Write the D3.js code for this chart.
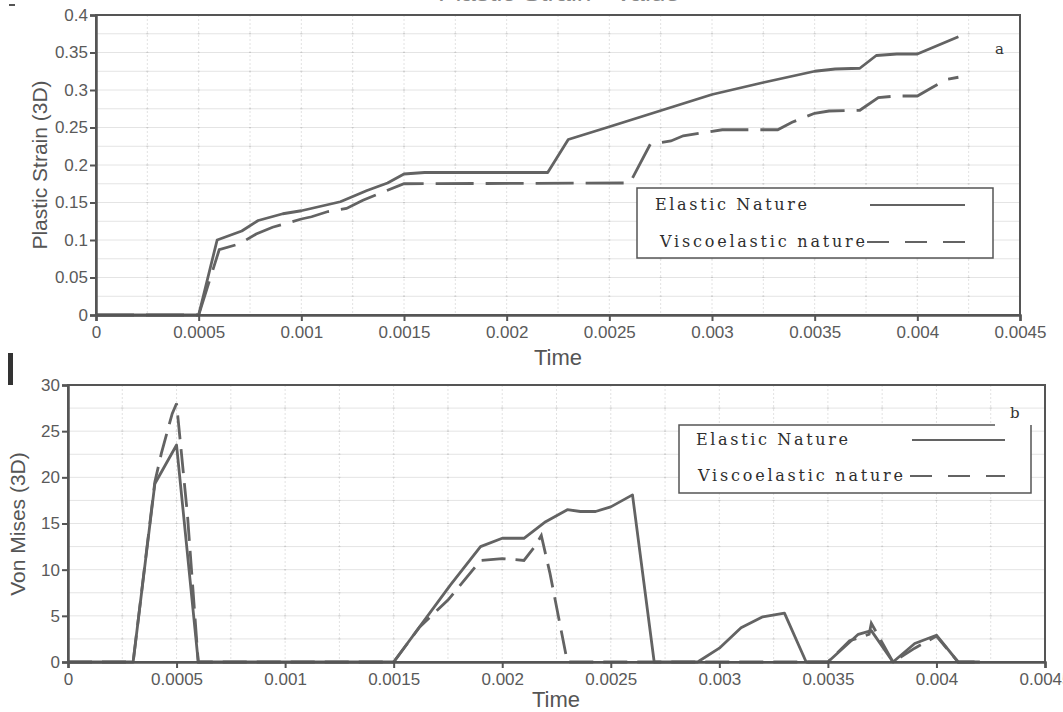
<!DOCTYPE html>
<html><head><meta charset="utf-8">
<script src="https://cdn.jsdelivr.net/npm/d3@7"></script>
<style>body{margin:0;background:#fff;}svg{display:block;}</style>
</head><body>
<svg id="c" width="1063" height="712"></svg>
<script>
// ---- data ----
const seriesNames = ["Elastic Nature", "Viscoelastic nature"];
// Top chart (a): Plastic Strain (3D)
const strainElasticT = [0,0.0005,0.00059,0.00071,0.00079,0.00091,0.001,0.00119,0.00132,0.00142,0.0015,0.0016,0.0022,0.0023,0.0025,0.003,0.00325,0.0035,0.0036,0.00372,0.0038,0.0039,0.004,0.0042];
const strainElasticV = [0,0,0.1,0.112,0.126,0.135,0.139,0.151,0.166,0.176,0.188,0.19,0.19,0.234,0.251,0.294,0.31,0.325,0.328,0.329,0.346,0.348,0.348,0.371];
const strainViscoT = [0,0.0005,0.0006,0.0007,0.00078,0.00086,0.001,0.00105,0.00113,0.00122,0.0013,0.00138,0.0015,0.0026,0.0027,0.0028,0.00286,0.00305,0.00332,0.00339,0.0035,0.00357,0.00372,0.00381,0.0039,0.004,0.00407,0.00414,0.0042];
const strainViscoV = [0,0,0.087,0.095,0.108,0.117,0.128,0.131,0.138,0.142,0.153,0.162,0.175,0.176,0.228,0.232,0.239,0.247,0.247,0.257,0.269,0.272,0.273,0.29,0.292,0.292,0.303,0.314,0.317];
// Bottom chart (b): Von Mises (3D)
const misesElasticT = [0,0.0003,0.0004,0.0005,0.0006,0.0015,0.00176,0.0019,0.002,0.0021,0.0022,0.0023,0.00236,0.00243,0.0025,0.0026,0.0027,0.0029,0.003,0.0031,0.0032,0.0033,0.0034,0.0035,0.00364,0.0037,0.0038,0.0039,0.004,0.0041,0.0042];
const misesElasticV = [0,0,19.3,23.5,0,0,8.3,12.5,13.4,13.4,15.2,16.5,16.3,16.3,16.8,18.1,0,0,1.5,3.7,4.9,5.3,0,0,3.0,3.4,0,2.0,2.9,0,0];
const misesViscoT = [0,0.0003,0.0004,0.00043,0.00048,0.0005,0.00055,0.0006,0.0015,0.00162,0.00175,0.0019,0.002,0.0021,0.00215,0.00218,0.00222,0.0023,0.0035,0.0036,0.00369,0.0037,0.0038,0.0039,0.004,0.0041,0.0042];
const misesViscoV = [0,0,19.5,22.6,26.9,28,16,0,0,3.8,6.7,11,11.2,11,12.5,13.7,9.6,0,0,2.3,3.0,4.2,0,1.5,2.8,0,0];
// ticks
const timeTicks = [0,0.0005,0.001,0.0015,0.002,0.0025,0.003,0.0035,0.004,0.0045];
const timeTickLabels = ["0","0.0005","0.001","0.0015","0.002","0.0025","0.003","0.0035","0.004","0.0045"];
const strainTicks = [0,0.05,0.1,0.15,0.2,0.25,0.3,0.35,0.4];
const strainTickLabels = ["0","0.05","0.1","0.15","0.2","0.25","0.3","0.35","0.4"];
const misesTicks = [0,5,10,15,20,25,30];
const misesTickLabels = ["0","5","10","15","20","25","30"];

const svg = d3.select("#c");
const AX = "#555", LINE = "#636363";

function panel(cfg){
  const x = d3.scaleLinear().domain([0,0.0045]).range([cfg.x0,cfg.x1]);
  const y = d3.scaleLinear().domain(cfg.ydom).range([cfg.y1,cfg.y0]);
  const g = svg.append("g");
  // grid
  const minorX = d3.range(0, 0.0045+1e-9, 0.00025);
  const minorY = d3.range(cfg.ydom[0], cfg.ydom[1]+1e-9, cfg.minorY);
  g.selectAll(".gx").data(minorX).join("line")
    .attr("x1",d=>x(d)).attr("x2",d=>x(d)).attr("y1",cfg.y0).attr("y2",cfg.y1)
    .attr("stroke","#e2e2e2").attr("stroke-width",1).attr("stroke-dasharray","2,2");
  g.selectAll(".gy").data(minorY).join("line")
    .attr("x1",cfg.x0).attr("x2",cfg.x1).attr("y1",d=>y(d)).attr("y2",d=>y(d))
    .attr("stroke","#e4e4e4").attr("stroke-width",1);
  // intersection dots
  const pts = [];
  minorX.forEach(a=>minorY.forEach(b=>pts.push([a,b])));
  g.selectAll(".dt").data(pts).join("rect")
    .attr("x",d=>x(d[0])-1).attr("y",d=>y(d[1])-0.5).attr("width",2).attr("height",1)
    .attr("fill","#c8c8c8");
  // series
  const solid = d3.line().x(d=>x(d[0])).y(d=>y(d[1]));
  g.append("path").datum(cfg.eT.map((t,i)=>[t,cfg.eV[i]])).attr("d",solid)
    .attr("fill","none").attr("stroke",LINE).attr("stroke-width",2.8).attr("stroke-linejoin","round");
  g.append("path").datum(cfg.vT.map((t,i)=>[t,cfg.vV[i]])).attr("d",solid)
    .attr("fill","none").attr("stroke",LINE).attr("stroke-width",2.8).attr("stroke-dasharray",cfg.dash);
  // frame
  g.append("rect").attr("x",cfg.x0).attr("y",cfg.y0).attr("width",cfg.x1-cfg.x0).attr("height",cfg.y1-cfg.y0)
    .attr("fill","none").attr("stroke",AX).attr("stroke-width",2);
  // axes
  const xa = d3.axisBottom(x).tickValues(timeTicks).tickFormat((d,i)=>timeTickLabels[i]).tickSize(6).tickPadding(5);
  const ya = d3.axisLeft(y).tickValues(cfg.yTicks).tickFormat((d,i)=>cfg.yLabels[i]).tickSize(6).tickPadding(2);
  const gx = g.append("g").attr("transform",`translate(0,${cfg.y1})`).call(xa);
  const gy = g.append("g").attr("transform",`translate(${cfg.x0},0)`).call(ya);
  [gx,gy].forEach(a=>{
    a.select(".domain").attr("stroke",AX).attr("stroke-width",2.5);
    a.selectAll(".tick line").attr("stroke",AX).attr("stroke-width",2);
    a.selectAll("text").attr("fill","#5a5a5a").style("font-family","Liberation Sans, Arial, sans-serif").style("font-size","17px");
  });
  // axis titles
  g.append("text").attr("x",cfg.timeX).attr("y",cfg.timeY).attr("text-anchor","middle")
    .attr("fill","#555").style("font-family","Liberation Sans, Arial, sans-serif").style("font-size","22px").text("Time");
  g.append("text").attr("transform",`translate(${cfg.ytX},${cfg.ytY}) rotate(-90)`).attr("text-anchor","middle")
    .attr("fill","#555").style("font-family","Liberation Sans, Arial, sans-serif").style("font-size","21px").text(cfg.yTitle);
  // legend
  const L = cfg.leg;
  if (L.full) {
    g.append("rect").attr("x",L.x).attr("y",L.y).attr("width",L.w).attr("height",L.h)
      .attr("fill","#fff").attr("stroke","#555").attr("stroke-width",1.5);
  } else {
    g.append("rect").attr("x",L.x).attr("y",L.y).attr("width",L.w).attr("height",L.h)
      .attr("fill","#fff").attr("stroke","none");
    g.append("path").attr("d",`M${L.x+L.topLen},${L.y}H${L.x}V${L.y+L.h}H${L.x+L.w}V${L.y}`)
      .attr("fill","none").attr("stroke","#555").attr("stroke-width",1.5);
  }
  const fs = {"font-family":"DejaVu Serif, Liberation Serif, serif","font-size":"16px"};
  const t1 = g.append("text").attr("x",L.x+L.tx1).attr("y",L.y+L.ty1).attr("fill","#2e2e2e")
    .attr("textLength",152).attr("lengthAdjust","spacing").text(seriesNames[0]);
  const t2 = g.append("text").attr("x",L.x+L.tx2).attr("y",L.y+L.ty2).attr("fill","#2e2e2e")
    .attr("textLength",205).attr("lengthAdjust","spacing").text(seriesNames[1]);
  [t1,t2].forEach(t=>{t.style("font-family",fs["font-family"]).style("font-size",fs["font-size"]);});
  g.append("line").attr("x1",L.x+L.l1a).attr("x2",L.x+L.lb).attr("y1",L.y+L.ty1-5).attr("y2",L.y+L.ty1-5)
    .attr("stroke",LINE).attr("stroke-width",1.8);
  g.append("line").attr("x1",L.x+L.l2a).attr("x2",L.x+L.lb).attr("y1",L.y+L.ty2-5).attr("y2",L.y+L.ty2-5)
    .attr("stroke",LINE).attr("stroke-width",1.8).attr("stroke-dasharray","22,16");
  g.append("text").attr("x",cfg.tagX).attr("y",cfg.tagY).attr("fill","#333")
    .style("font-family","DejaVu Serif, Liberation Serif, serif").style("font-size","15px").text(cfg.tag);
}

panel({x0:96,x1:1020,y0:15,y1:315,ydom:[0,0.4],minorY:0.025,yTicks:strainTicks,yLabels:strainTickLabels,
  eT:strainElasticT,eV:strainElasticV,vT:strainViscoT,vV:strainViscoV,dash:"38,12",
  timeX:558,timeY:365,ytX:47,ytY:165,yTitle:"Plastic Strain (3D)",
  leg:{full:true,x:637,y:188,w:356,h:70,tx1:18,ty1:22,tx2:23,ty2:59,l1a:233,l2a:230,lb:328},
  tag:"a",tagX:995,tagY:54});

panel({x0:68,x1:1045,y0:385,y1:662,ydom:[0,30],minorY:2.5,yTicks:misesTicks,yLabels:misesTickLabels,
  eT:misesElasticT,eV:misesElasticV,vT:misesViscoT,vV:misesViscoV,dash:"24,10",
  timeX:556,timeY:707,ytX:25,ytY:524,yTitle:"Von Mises (3D)",
  leg:{full:false,topLen:316,x:679,y:425,w:352,h:68,tx1:17,ty1:20,tx2:19,ty2:56,l1a:233,l2a:231,lb:326},
  tag:"b",tagX:1010,tagY:418});

// stray marks of the source figure
svg.append("rect").attr("x",9).attr("y",4).attr("width",6).attr("height",2).attr("fill","#555");
svg.append("rect").attr("x",8).attr("y",353).attr("width",5).attr("height",32).attr("fill","#333");
svg.append("text").attr("x",438).attr("y",1).attr("fill","#888").attr("textLength",242).attr("lengthAdjust","spacingAndGlyphs")
  .style("font-family","Liberation Sans, Arial, sans-serif").style("font-size","22px").text("Plastic Strain - Value");
</script>
</body></html>
